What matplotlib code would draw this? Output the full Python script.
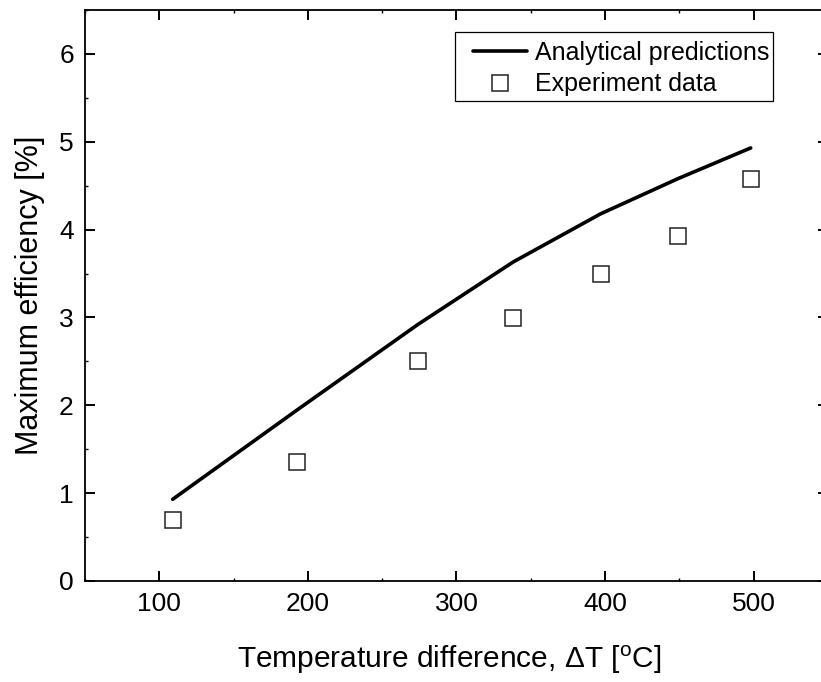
import matplotlib
matplotlib.use("Agg")
import matplotlib.pyplot as plt
from matplotlib.ticker import MultipleLocator
from matplotlib.patches import Rectangle

plt.rcParams['font.family'] = ['Liberation Sans', 'DejaVu Sans']
plt.rcParams['mathtext.fontset'] = 'custom'
plt.rcParams['mathtext.rm'] = 'Liberation Sans'
plt.rcParams['mathtext.it'] = 'Liberation Sans:italic'

# Temperature difference (degC) and maximum efficiency (%)
delta_t = [109, 193, 274, 338, 397, 449, 498]
eff_model = [0.93, 1.95, 2.92, 3.63, 4.18, 4.58, 4.93]
eff_exp = [0.69, 1.35, 2.50, 2.99, 3.50, 3.93, 4.58]

W, H = 821, 682
fig = plt.figure(figsize=(W / 100, H / 100), dpi=100)
ax = fig.add_axes([0.1035, 0.1481, 0.905, 0.8372])

ax.plot(delta_t, eff_model, color='black', lw=2.6, solid_capstyle='round',
        label='Analytical predictions', zorder=3)
ax.plot(delta_t, eff_exp, linestyle='none', marker='s', markersize=12,
        markerfacecolor='white', markeredgecolor='#222222', markeredgewidth=1.1,
        label='Experiment data', zorder=4)

ax.set_xlim(50, 550)
ax.set_ylim(0, 6.5)
ax.xaxis.set_major_locator(MultipleLocator(100))
ax.xaxis.set_minor_locator(MultipleLocator(50))
ax.yaxis.set_major_locator(MultipleLocator(1))
ax.yaxis.set_minor_locator(MultipleLocator(0.5))

ax.tick_params(which='both', direction='in', top=True, right=True)
ax.tick_params(which='major', length=7.5, width=1.4, labelsize=19, pad=8)
ax.tick_params(which='minor', length=2, width=1.0)
for sp in ax.spines.values():
    sp.set_linewidth(1.3)

ax.set_xlabel('Temperature difference, \u0394T [$^{\\rm o}$C]', fontsize=21.5, labelpad=20)
ax.xaxis.label.set_x(0.49)
ax.set_ylabel('Maximum efficiency [%]', fontsize=22, labelpad=10)

# legend entries without frame; the box is drawn separately
leg = ax.legend(loc='upper left', bbox_to_anchor=(473 / W, 1 - 41 / H),
                bbox_transform=fig.transFigure, fontsize=18, frameon=False,
                handlelength=2.16, handletextpad=0.32, labelspacing=0.3,
                borderpad=0, borderaxespad=0)
box = Rectangle((455 / W, 1 - 101 / H), (773 - 455) / W, (101 - 32) / H,
                transform=fig.transFigure, fill=False, edgecolor='black',
                linewidth=0.9, zorder=5)
fig.add_artist(box)

fig.savefig('out.png', dpi=100)
